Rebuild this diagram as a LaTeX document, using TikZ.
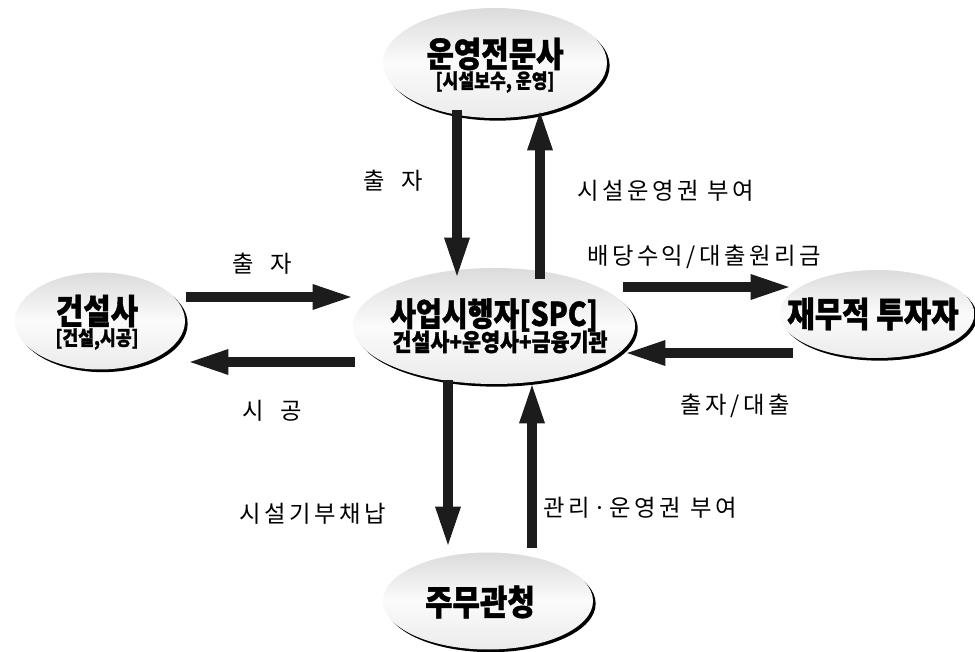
\documentclass[tikz,border=0pt]{standalone}
\usepackage{fontspec}
\usepackage{graphicx}
\usetikzlibrary{arrows.meta,shapes.geometric,shadows}
\newfontfamily\hfont[FakeStretch=0.86,FakeBold=1.2]{Noto Sans CJK KR}
\newfontfamily\lfont[LetterSpace=15]{Noto Sans CJK KR}
\tikzset{
  ell/.style={ellipse, draw=none, inner sep=0pt,
    top color=gray!28, bottom color=gray!16, middle color=gray!3,
    drop shadow={shadow xshift=2pt, shadow yshift=-2pt, fill=black, opacity=1}},
  bigarrow/.style={line width=7pt, draw=gray!22!black,
    -{Triangle[length=31pt,width=17pt]}},
  head/.style={inner sep=0pt, font=\hfont\bfseries\fontsize{26}{29}\selectfont},
  spchead/.style={inner sep=0pt, font=\hfont\bfseries\fontsize{24.5}{27}\selectfont},
  subtext/.style={inner sep=0pt, font=\hfont\bfseries\fontsize{15}{17}\selectfont},
  spcsub/.style={inner sep=0pt, font=\hfont\bfseries\fontsize{18}{20}\selectfont},
  lab/.style={inner sep=0pt, font=\lfont\fontsize{17.5}{20}\selectfont}
}
\begin{document}
\begin{tikzpicture}[x=0.75pt,y=-0.75pt]
\fill[white] (0,0) rectangle (975,652);
\useasboundingbox (0,0) rectangle (975,652);

% ellipses
\node[ell, minimum width=168pt, minimum height=82.5pt] (op) at (495,63) {};
\node[ell, minimum width=127.5pt, minimum height=72.75pt] (con) at (100,321) {};
\node[ell, minimum width=211.5pt, minimum height=87pt] (spc) at (494,326) {};
\node[ell, minimum width=146pt, minimum height=66pt] (inv) at (877,314) {};
\node[ell, minimum width=157.5pt, minimum height=72.75pt] (gov) at (488,601) {};

% ellipse texts
\node[head] (opt) at (495,54) {운영전문사};
\node[subtext] (ops) at (495,82) {[시설보수, 운영]};
\node[head] (cont) at (97,311) {건설사};
\node[subtext] (cons) at (97,339) {[건설,시공]};
\node[spchead] (spct) at (494,315) {사업시행자[SPC]};
\node[spcsub] (spcs) at (500,342) {건설사+운영사+금융기관};
\node[head] (invt) at (873,314) {재무적 투자자};
\node[head] (govt) at (480,602) {주무관청};

% arrow end points
\coordinate (a1s) at (457,110); \coordinate (a1e) at (457,279);
\coordinate (a2s) at (540,279); \coordinate (a2e) at (540,109);
\coordinate (a3s) at (186,297); \coordinate (a3e) at (354,297);
\coordinate (a4s) at (355,362); \coordinate (a4e) at (187,362);
\coordinate (a5s) at (623,287); \coordinate (a5e) at (792,287);
\coordinate (a6s) at (793,353); \coordinate (a6e) at (624,353);
\coordinate (a7s) at (448,380); \coordinate (a7e) at (448,548);
\coordinate (a8s) at (532,548); \coordinate (a8e) at (532,382);

\draw[bigarrow] (a1s) -- (a1e);
\draw[bigarrow] (a2s) -- (a2e);
\draw[bigarrow] (a3s) -- (a3e);
\draw[bigarrow] (a4s) -- (a4e);
\draw[bigarrow] (a5s) -- (a5e);
\draw[bigarrow] (a6s) -- (a6e);
\draw[bigarrow] (a7s) -- (a7e);
\draw[bigarrow] (a8s) -- (a8e);

% labels
\node[lab] (l1) at (393,181) {출\hspace{0.7em}자};
\node[lab] (l2) at (666,191) {시설운영권 부여};
\node[lab] (l3) at (262,264) {출\hspace{0.7em}자};
\node[lab] (l4) at (272,411) {시\hspace{0.7em}공};
\node[lab] (l5) at (704,257) {배당수익/대출원리금};
\node[lab] (l6) at (735,406) {출자/대출};
\node[lab] (l7) at (313,514) {시설기부채납};
\node[lab] (l8) at (640,508) {관리·운영권 부여};
\end{tikzpicture}
\end{document}
